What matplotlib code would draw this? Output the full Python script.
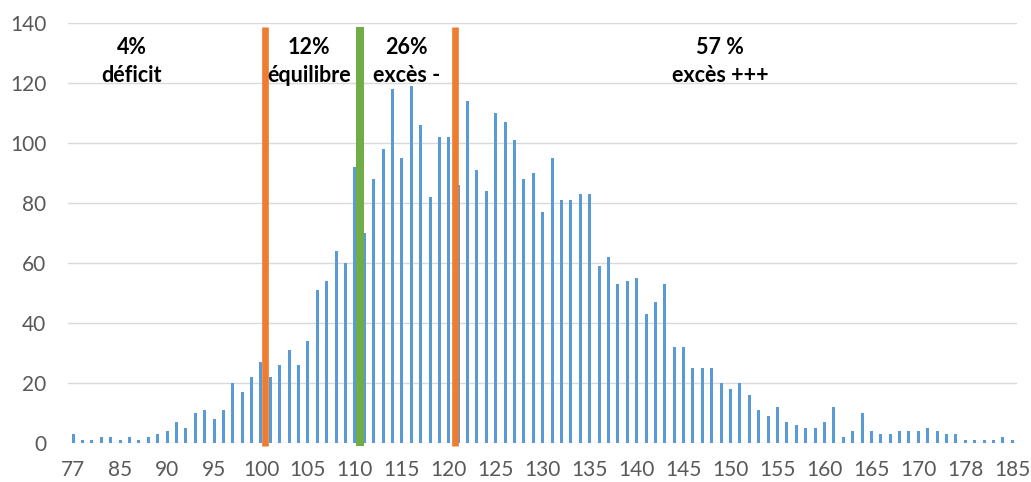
import matplotlib
matplotlib.use('Agg')
import matplotlib.pyplot as plt

plt.rcParams['font.family'] = ['Lato', 'DejaVu Sans']

# categories (the axis skips some values at both ends)
categories = ([77, 79, 81, 82, 84, 85, 86, 87, 88, 89]
              + list(range(90, 171))
              + [171, 173, 174, 176, 178, 179, 181, 182, 184, 185])

counts = [3, 1, 1, 2, 2, 1, 2, 1, 2, 3,
          4, 7, 5, 10, 11, 8, 11, 20, 17, 22,
          27, 22, 26, 31, 26, 34, 51, 54, 64, 60,
          92, 70, 88, 98, 118, 95, 119, 106, 82, 102,
          102, 86, 114, 91, 84, 110, 107, 101, 88, 90,
          77, 95, 81, 81, 83, 83, 59, 62, 53, 54,
          55, 43, 47, 53, 32, 32, 25, 25, 25, 20,
          18, 20, 16, 11, 9, 12, 7, 6, 5, 5,
          7, 12, 2, 4, 10, 4, 3, 3, 4, 4,
          4, 5, 4, 3, 3, 1, 1, 1, 1, 2, 1]

# threshold lines (category position) and colours
thresholds = [20.4, 30.5, 40.65]
threshold_colors = ['#ED7D31', '#70AD47', '#ED7D31']
threshold_widths = [4.8, 5.8, 4.8]

# zone labels: (x in category units, percentage, name)
zones = [(6.25, '4%', 'déficit'),
         (25.1, '12%', 'équilibre'),
         (35.5, '26%', 'excès -'),
         (68.9, '57 %', 'excès +++')]

fig = plt.figure(figsize=(10.31, 4.82), dpi=100)
ax = fig.add_axes([0.0664, 0.0803, 0.92, 0.873])

pos = list(range(len(categories)))
ax.bar(pos, counts, width=0.32, color='#5B9BD5', zorder=2)

for x, c, lw in zip(thresholds, threshold_colors, threshold_widths):
    ax.plot([x, x], [-0.8, 138.5], color=c, lw=lw, solid_capstyle='butt',
            zorder=3, clip_on=False)

for x, pct, name in zones:
    ax.text(x, 131.8, pct, ha='center', va='center', fontsize=15.5,
            fontweight='bold', color='black')
    ax.text(x, 122.5, name, ha='center', va='center', fontsize=15.5,
            fontweight='bold', color='black')

ax.set_xlim(-0.5, len(categories) - 0.5)
ax.set_ylim(0, 140)
ax.set_yticks(range(0, 141, 20))
ax.set_xticks(pos[::5])
ax.set_xticklabels([str(c) for c in categories[::5]])

ax.grid(axis='y', color='#D9D9D9', lw=1, zorder=0)
for s in ax.spines.values():
    s.set_visible(False)
ax.tick_params(axis='both', length=0, labelsize=15, labelcolor='#595959')
ax.tick_params(axis='y', pad=16)
ax.tick_params(axis='x', pad=12)

fig.savefig('out.png', dpi=100)
